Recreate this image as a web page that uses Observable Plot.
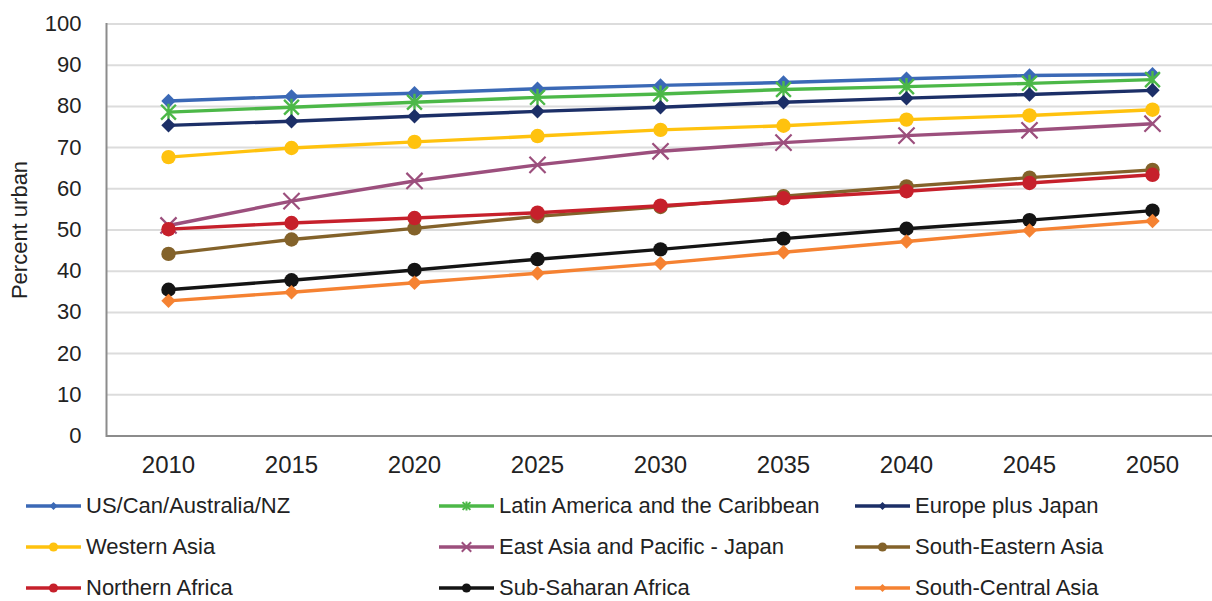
<!DOCTYPE html>
<html>
<head>
<meta charset="utf-8">
<script src="https://cdn.jsdelivr.net/npm/d3@7"></script>
<script src="https://cdn.jsdelivr.net/npm/@observablehq/plot@0.6"></script>
<style>
  html, body { margin: 0; padding: 0; background: #fff; overflow: hidden; }
  body { font-family: "Liberation Sans", Arial, sans-serif; color: #222; }
  #legend { display: grid; grid-template-columns: 413px 416px 330px; padding-left: 26px; padding-top: 5px; }
  .item { display: flex; align-items: center; height: 41px; font-size: 22px; white-space: nowrap; }
  .item svg { margin-right: 5px; flex: none; }
</style>
</head>
<body>
<div id="chart"></div>
<div id="legend"></div>
<script>
// Projected share of population living in urban areas, by region
const years = [2010, 2015, 2020, 2025, 2030, 2035, 2040, 2045, 2050];
const yTicks = [0, 10, 20, 30, 40, 50, 60, 70, 80, 90, 100];

const usCanAusNz        = [81.3, 82.4, 83.2, 84.3, 85.1, 85.8, 86.7, 87.5, 87.8];
const latinAmerica      = [78.6, 79.8, 81.0, 82.2, 83.0, 84.1, 84.8, 85.6, 86.5];
const europePlusJapan   = [75.4, 76.4, 77.6, 78.8, 79.8, 81.0, 82.0, 82.9, 83.9];
const westernAsia       = [67.7, 69.9, 71.4, 72.8, 74.3, 75.3, 76.8, 77.8, 79.2];
const eastAsiaPacific   = [51.1, 57.0, 61.9, 65.8, 69.1, 71.2, 72.9, 74.2, 75.8];
const southEasternAsia  = [44.2, 47.7, 50.4, 53.3, 55.6, 58.2, 60.6, 62.7, 64.6];
const northernAfrica    = [50.2, 51.7, 52.9, 54.2, 55.9, 57.7, 59.4, 61.4, 63.4];
const subSaharanAfrica  = [35.5, 37.8, 40.3, 42.9, 45.3, 47.9, 50.3, 52.4, 54.7];
const southCentralAsia  = [32.8, 34.9, 37.2, 39.5, 41.9, 44.6, 47.2, 49.9, 52.2];

const seriesNames = [
  "US/Can/Australia/NZ", "Latin America and the Caribbean", "Europe plus Japan",
  "Western Asia", "East Asia and Pacific - Japan", "South-Eastern Asia",
  "Northern Africa", "Sub-Saharan Africa", "South-Central Asia"
];
const seriesValues = [
  usCanAusNz, latinAmerica, europePlusJapan,
  westernAsia, eastAsiaPacific, southEasternAsia,
  northernAfrica, subSaharanAfrica, southCentralAsia
];
const seriesColors = [
  "#3b69b6", "#4cb848", "#1c2f67",
  "#ffc20e", "#9c4f7d", "#83622a",
  "#c6202b", "#141414", "#f58232"
];
const seriesMarkers = [
  "diamond", "star", "diamond",
  "circle", "times", "circle",
  "circle", "circle", "diamond"
];

// Six-armed star marker: an X crossed by a vertical stroke
const starSymbol = {
  draw(ctx, size) {
    const r = Math.sqrt(size) * 0.55;
    ctx.moveTo(-r, -r); ctx.lineTo(r, r);
    ctx.moveTo(r, -r); ctx.lineTo(-r, r);
    ctx.moveTo(0, -r * 1.15); ctx.lineTo(0, r * 1.15);
  }
};

function markerDot(data, marker, color) {
  if (marker === "circle")
    return Plot.dot(data, {x: "year", y: "value", r: 7.2, fill: color, stroke: "none"});
  if (marker === "diamond")
    return Plot.dot(data, {x: "year", y: "value", r: 6.5, symbol: "diamond2", fill: color, stroke: "none"});
  if (marker === "times")
    return Plot.dot(data, {x: "year", y: "value", r: 7.4, symbol: "times", fill: "none", stroke: color, strokeWidth: 2.2});
  return Plot.dot(data, {x: "year", y: "value", r: 7.6, symbol: starSymbol, fill: "none", stroke: color, strokeWidth: 2.4});
}

const seriesMarks = seriesNames.flatMap((name, i) => {
  const data = years.map((year, j) => ({year, value: seriesValues[i][j], series: name}));
  return [
    Plot.line(data, {x: "year", y: "value", stroke: seriesColors[i], strokeWidth: 3.4}),
    markerDot(data, seriesMarkers[i], seriesColors[i])
  ];
});

const chart = Plot.plot({
  width: 1212,
  height: 480,
  marginLeft: 106,
  marginRight: 0,
  marginTop: 23.5,
  marginBottom: 44.5,
  style: {fontFamily: "'Liberation Sans', Arial, sans-serif", color: "#222", background: "#fff"},
  x: {type: "point", domain: years, range: [167, 1153], padding: 0, axis: null},
  y: {domain: [0, 100], axis: null},
  marks: [
    Plot.ruleY(yTicks.filter(d => d > 0), {stroke: "#dcdcdc", strokeWidth: 2}),
    Plot.ruleY([0], {stroke: "#8c8c8c", strokeWidth: 2}),
    Plot.frame({anchor: "left", stroke: "#8c8c8c", strokeWidth: 2}),
    Plot.axisY(yTicks, {tickSize: 0, tickPadding: 25, fontSize: 22, label: null}),
    Plot.text(["Percent urban"], {frameAnchor: "left", textAnchor: "middle", rotate: -90, dx: -87, fontSize: 22, fill: "#222"}),
    Plot.axisX(years, {tickSize: 0, tickPadding: 20, fontSize: 24, label: null, tickFormat: d => String(d)}),
    ...seriesMarks
  ]
});
document.getElementById("chart").append(chart);

// Legend: three columns, line swatch with a small marker in the middle
const legend = d3.select("#legend");
seriesNames.forEach((name, i) => {
  const item = legend.append("div").attr("class", "item");
  const svg = item.append("svg").attr("width", 55).attr("height", 14);
  svg.append("line").attr("x1", 0).attr("x2", 55).attr("y1", 7).attr("y2", 7)
    .attr("stroke", seriesColors[i]).attr("stroke-width", 3.4);
  const m = seriesMarkers[i];
  const g = svg.append("g").attr("transform", "translate(27.5,7)");
  if (m === "circle") {
    g.append("circle").attr("r", 4.6).attr("fill", seriesColors[i]);
  } else if (m === "diamond") {
    g.append("path").attr("d", d3.symbol(d3.symbolDiamond2, 40)()).attr("fill", seriesColors[i]);
  } else if (m === "times") {
    g.append("path").attr("d", d3.symbol(d3.symbolTimes, 60)()).attr("fill", "none")
      .attr("stroke", seriesColors[i]).attr("stroke-width", 2);
  } else {
    g.append("path").attr("d", d3.symbol(starSymbol, 50)()).attr("fill", "none")
      .attr("stroke", seriesColors[i]).attr("stroke-width", 2);
  }
  item.append("span").text(name);
});
</script>
</body>
</html>
